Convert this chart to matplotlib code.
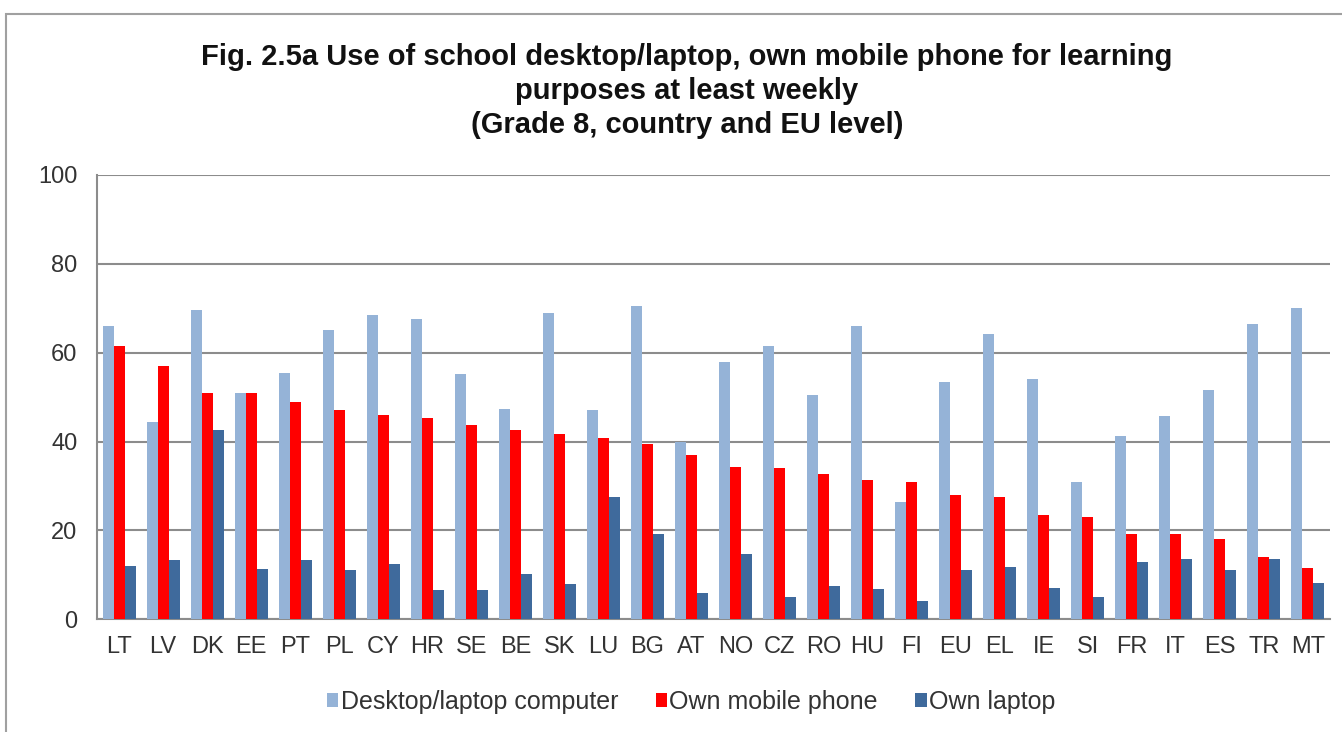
import matplotlib

matplotlib.use("Agg")

import matplotlib.pyplot as plt
import numpy as np
from matplotlib.patches import Rectangle

plt.rcParams["font.family"] = ["Liberation Sans", "DejaVu Sans"]

countries = ["LT", "LV", "DK", "EE", "PT", "PL", "CY", "HR", "SE", "BE", "SK", "LU",
             "BG", "AT", "NO", "CZ", "RO", "HU", "FI", "EU", "EL", "IE", "SI", "FR",
             "IT", "ES", "TR", "MT"]
desktop = [66, 44.5, 69.5, 51, 55.5, 65, 68.5, 67.5, 55.2, 47.3, 69, 47,
           70.5, 40, 58, 61.5, 50.5, 66, 26.5, 53.3, 64.2, 54, 31, 41.3,
           45.8, 51.7, 66.5, 70]
mobile = [61.5, 57, 51, 51, 48.8, 47, 46, 45.3, 43.8, 42.5, 41.8, 40.8,
          39.5, 37, 34.3, 34, 32.8, 31.3, 31, 28, 27.5, 23.5, 23, 19.3,
          19.2, 18, 14, 11.5]
laptop = [12, 13.3, 42.5, 11.3, 13.3, 11, 12.5, 6.7, 6.5, 10.3, 8, 27.5,
          19.3, 6, 14.8, 5, 7.5, 6.8, 4, 11.2, 11.7, 7, 5, 12.8,
          13.6, 11, 13.6, 8.2]

series = [
    ("Desktop/laptop computer", desktop, "#95B3D7"),
    ("Own mobile phone", mobile, "#FF0000"),
    ("Own laptop", laptop, "#3F6A9C"),
]

fig = plt.figure(figsize=(13.42, 7.32), dpi=100)
ax = fig.add_axes((0.0723, 0.154, 0.9187, 0.607))

# outer chart frame (runs off the right and bottom edge like the screenshot)
fig.patches.append(Rectangle((6 / 1342, -0.05), 1.1, 1 - 14 / 732 + 0.05,
                             transform=fig.transFigure, fill=False,
                             edgecolor="#A0A0A0", lw=1.5))

x = np.arange(len(countries))
w = 0.25
for i, (name, vals, col) in enumerate(series):
    ax.bar(x + (i - 1) * w, vals, width=w, color=col, label=name, zorder=3)

ax.set_xlim(-0.5, len(countries) - 0.5)
ax.set_ylim(0, 100)
ax.set_yticks(range(0, 101, 20))
ax.set_xticks(x)
ax.set_xticklabels(countries)
ax.tick_params(axis="both", length=0, labelsize=17, colors="#333333")
ax.tick_params(axis="x", pad=12)
ax.tick_params(axis="y", pad=14)
ax.grid(axis="y", color="#8C8C8C", lw=1.5, zorder=0)
for s in ("top", "right"):
    ax.spines[s].set_visible(False)
for s in ("left", "bottom"):
    ax.spines[s].set_color("#8C8C8C")
    ax.spines[s].set_linewidth(1.5)

fig.text(0.512, 0.876,
         "Fig. 2.5a Use of school desktop/laptop, own mobile phone for learning\n"
         "purposes at least weekly\n(Grade 8, country and EU level)",
         ha="center", va="center", fontsize=21, fontweight="bold",
         linespacing=1.28, color="#111111")

fig.legend(loc="center", bbox_to_anchor=(0.515, 0.041), ncol=3, frameon=False,
           fontsize=18, handlelength=0.45, handleheight=0.45, handletextpad=0.1,
           columnspacing=1.5, labelcolor="#333333")

fig.savefig("out.png", dpi=100)
